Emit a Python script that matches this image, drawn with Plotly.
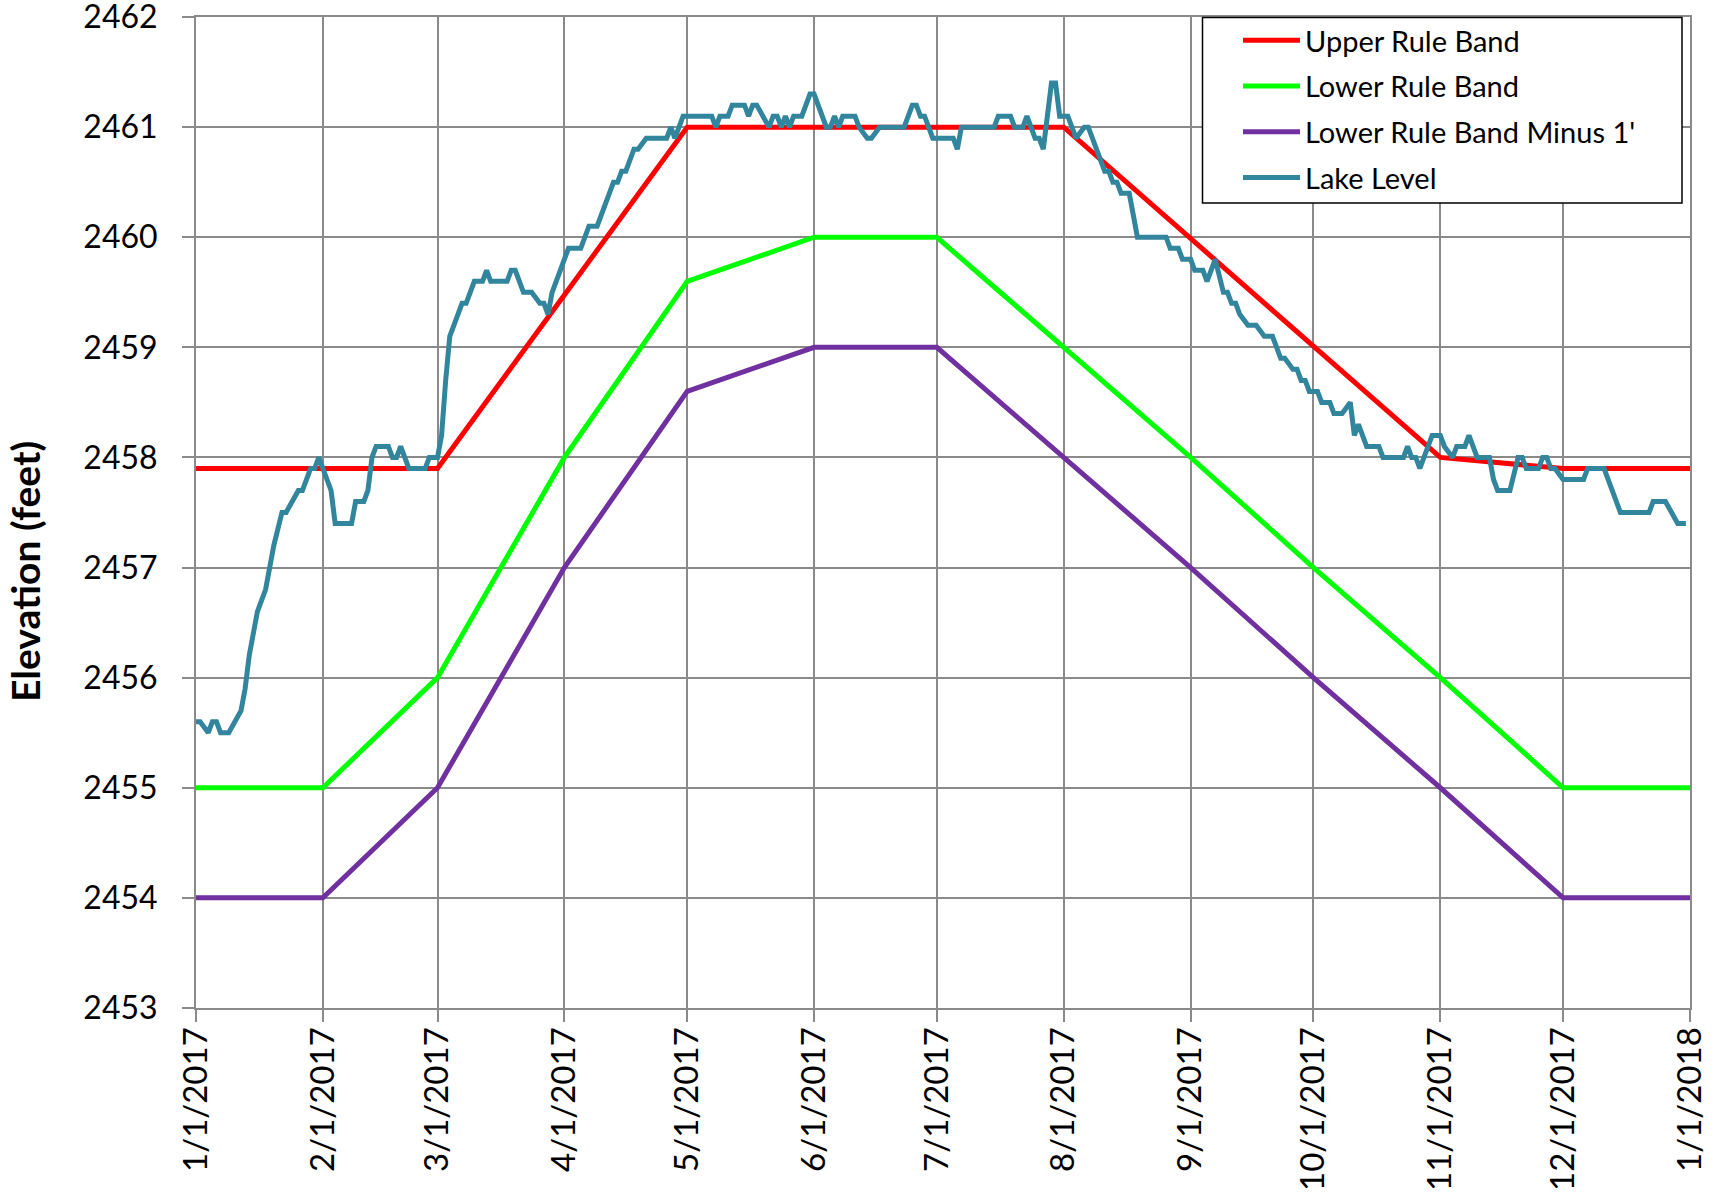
import pandas as pd
import plotly.graph_objects as go

# ---------------- data ----------------
upper_dates = ["2017-01-01", "2017-03-01", "2017-05-01", "2017-08-01",
               "2017-11-01", "2017-12-01", "2018-01-01"]
upper_vals = [2457.9, 2457.9, 2461.0, 2461.0, 2458.0, 2457.9, 2457.9]

month_dates = ["2017-01-01", "2017-02-01", "2017-03-01", "2017-04-01", "2017-05-01",
               "2017-06-01", "2017-07-01", "2017-08-01", "2017-09-01", "2017-10-01",
               "2017-11-01", "2017-12-01", "2018-01-01"]
lower_vals = [2455, 2455, 2456, 2458, 2459.6, 2460, 2460, 2459, 2458, 2457, 2456, 2455, 2455]
lower_minus1_vals = [2454, 2454, 2455, 2457, 2458.6, 2459, 2459, 2458, 2457, 2456, 2455, 2454, 2454]

lake_day = [0, 1, 3, 4, 5, 6, 8, 11, 12, 13, 14, 15, 17, 18, 19, 21, 22, 25, 26, 28, 29, 30, 31, 33,
            34, 38, 39, 41, 42, 43, 44, 47, 48, 49, 50, 52, 56, 57, 59, 60, 61, 62, 63, 65, 66, 68,
            70, 71, 72, 76, 77, 78, 80, 82, 84, 85, 86, 87, 89, 91, 94, 96, 98, 102, 103, 104, 105,
            107, 108, 110, 115, 116, 117, 119, 126, 127, 128, 130, 131, 134, 135, 136, 137, 140,
            141, 142, 143, 144, 145, 146, 148, 150, 151, 152, 154, 155, 156, 157, 158, 161, 162,
            164, 165, 167, 173, 175, 176, 177, 178, 180, 185, 186, 187, 195, 196, 199, 200, 202,
            203, 205, 206, 207, 209, 210, 211, 213, 215, 217, 218, 220, 222, 223, 224, 225, 226,
            228, 230, 237, 238, 240, 241, 243, 244, 246, 247, 249, 251, 252, 253, 254, 255, 257,
            259, 261, 263, 265, 266, 268, 269, 270, 271, 272, 274, 275, 277, 278, 280, 282, 283,
            284, 286, 289, 290, 295, 296, 297, 298, 299, 301, 302, 304, 305, 307, 308, 310, 311,
            313, 316, 317, 318, 321, 323, 324, 325, 328, 329, 330, 331, 332, 334, 339, 340, 344,
            346, 348, 355, 356, 359, 362, 364]
lake_vals = [2455.6, 2455.6, 2455.5, 2455.6, 2455.6, 2455.5, 2455.5, 2455.7, 2455.9, 2456.2, 2456.4,
             2456.6, 2456.8, 2457.0, 2457.2, 2457.5, 2457.5, 2457.7, 2457.7, 2457.9, 2457.9, 2458.0,
             2457.9, 2457.7, 2457.4, 2457.4, 2457.6, 2457.6, 2457.7, 2458.0, 2458.1, 2458.1, 2458.0,
             2458.0, 2458.1, 2457.9, 2457.9, 2458.0, 2458.0, 2458.2, 2458.7, 2459.1, 2459.2, 2459.4,
             2459.4, 2459.6, 2459.6, 2459.7, 2459.6, 2459.6, 2459.7, 2459.7, 2459.5, 2459.5, 2459.4,
             2459.4, 2459.3, 2459.5, 2459.7, 2459.9, 2459.9, 2460.1, 2460.1, 2460.5, 2460.5, 2460.6,
             2460.6, 2460.8, 2460.8, 2460.9, 2460.9, 2461.0, 2460.9, 2461.1, 2461.1, 2461.0, 2461.1,
             2461.1, 2461.2, 2461.2, 2461.1, 2461.2, 2461.2, 2461.0, 2461.1, 2461.1, 2461.0, 2461.1,
             2461.0, 2461.1, 2461.1, 2461.3, 2461.3, 2461.2, 2461.0, 2461.0, 2461.1, 2461.0, 2461.1,
             2461.1, 2461.0, 2460.9, 2460.9, 2461.0, 2461.0, 2461.2, 2461.2, 2461.1, 2461.1, 2460.9,
             2460.9, 2460.8, 2461.0, 2461.0, 2461.1, 2461.1, 2461.0, 2461.0, 2461.1, 2460.9, 2460.9,
             2460.8, 2461.4, 2461.4, 2461.1, 2461.1, 2460.9, 2461.0, 2461.0, 2460.8, 2460.6, 2460.6,
             2460.5, 2460.5, 2460.4, 2460.4, 2460.0, 2460.0, 2459.9, 2459.9, 2459.8, 2459.8, 2459.7,
             2459.7, 2459.6, 2459.8, 2459.5, 2459.5, 2459.4, 2459.4, 2459.3, 2459.2, 2459.2, 2459.1,
             2459.1, 2458.9, 2458.9, 2458.8, 2458.8, 2458.7, 2458.7, 2458.6, 2458.6, 2458.5, 2458.5,
             2458.4, 2458.4, 2458.5, 2458.2, 2458.3, 2458.1, 2458.1, 2458.0, 2458.0, 2458.1, 2458.0,
             2458.0, 2457.9, 2458.1, 2458.2, 2458.2, 2458.1, 2458.0, 2458.1, 2458.1, 2458.2, 2458.0,
             2458.0, 2457.8, 2457.7, 2457.7, 2458.0, 2458.0, 2457.9, 2457.9, 2458.0, 2458.0, 2457.9,
             2457.9, 2457.8, 2457.8, 2457.9, 2457.9, 2457.7, 2457.5, 2457.5, 2457.6, 2457.6, 2457.4,
             2457.4]

y_ticks = [2453, 2454, 2455, 2456, 2457, 2458, 2459, 2460, 2461, 2462]

lake_dates = pd.Timestamp("2017-01-01") + pd.to_timedelta(lake_day, unit="D")

# ---------------- figure ----------------
FONT = "Lato"
GRID = "#8a8a8a"

fig = go.Figure()
fig.add_trace(go.Scatter(x=upper_dates, y=upper_vals, mode="lines", name="Upper Rule Band",
                         line=dict(color="#FF0000", width=5), legendgroup="a"))
fig.add_trace(go.Scatter(x=month_dates, y=lower_vals, mode="lines", name="Lower Rule Band",
                         line=dict(color="#00FF00", width=5), legendgroup="b"))
fig.add_trace(go.Scatter(x=month_dates, y=lower_minus1_vals, mode="lines",
                         name="Lower Rule Band Minus 1'",
                         line=dict(color="#7030A0", width=5), legendgroup="c"))
fig.add_trace(go.Scatter(x=lake_dates, y=lake_vals, mode="lines", name="Lake Level",
                         line=dict(color="#31859C", width=5), legendgroup="d"))

W, H = 1718, 1193
# plot area in page pixels
PL, PR, PT, PB = 196, 1690, 17, 1008
ML, MT, MR, MB = PL, PT, W - PR, H - PB
PW, PH = PR - PL, PB - PT


def px_to_paper_x(px):
    return (px - PL) / PW


def px_to_paper_y(py):
    return 1 - (py - PT) / PH


fig.update_layout(
    width=W, height=H,
    margin=dict(l=ML, r=MR, t=MT, b=MB, autoexpand=False),
    paper_bgcolor="white", plot_bgcolor="white",
    font=dict(family=FONT, size=31, color="black"),
    showlegend=True,
    legend=dict(
        x=px_to_paper_x(1238), y=px_to_paper_y(15), xanchor="left", yanchor="top",
        bgcolor="rgba(0,0,0,0)", borderwidth=0,
        font=dict(family=FONT, size=29, color="black"),
        tracegroupgap=5, itemwidth=57,
    ),
    xaxis=dict(
        type="date",
        range=["2017-01-01", "2018-01-01"],
        tick0="2017-01-01", dtick="M1",
        tickformat="%-m/%-d/%Y", tickangle=-90,
        showgrid=True, gridcolor=GRID, gridwidth=1.5,
        showline=True, linecolor=GRID, linewidth=2, mirror=True,
        ticks="outside", ticklen=12, tickcolor=GRID, tickwidth=1.5,
        ticklabelstandoff=-8, automargin=False, ticklabeloverflow="allow",
        tickfont=dict(family=FONT, size=33, color="black"),
    ),
    yaxis=dict(
        range=[2452.9995, 2462.0005], tickvals=y_ticks,
        showgrid=True, gridcolor=GRID, gridwidth=1.5,
        showline=True, linecolor=GRID, linewidth=2, mirror=True,
        ticks="outside", ticklen=12, tickcolor=GRID, tickwidth=1.5,
        ticklabelstandoff=18, automargin=False, ticklabeloverflow="allow",
        tickfont=dict(family=FONT, size=32, color="black"),
        zeroline=False,
    ),
    shapes=[dict(
        type="rect", xref="paper", yref="paper", layer="above",
        x0=px_to_paper_x(1202.5), x1=px_to_paper_x(1682),
        y0=px_to_paper_y(203), y1=px_to_paper_y(17.5),
        line=dict(color="black", width=1.5), fillcolor="white",
    )],
    annotations=[dict(
        text="<b>Elevation (feet)</b>", xref="paper", yref="paper",
        x=px_to_paper_x(25), y=px_to_paper_y(572), xanchor="center", yanchor="middle",
        textangle=-90, showarrow=False,
        font=dict(family=FONT, size=39, color="black"),
    )],
)

# remove the default 8px page margin so the figure fills the window exactly
fig.write_html("out.html", config={"displayModeBar": False},
               post_script="document.body.style.margin='0px';")
